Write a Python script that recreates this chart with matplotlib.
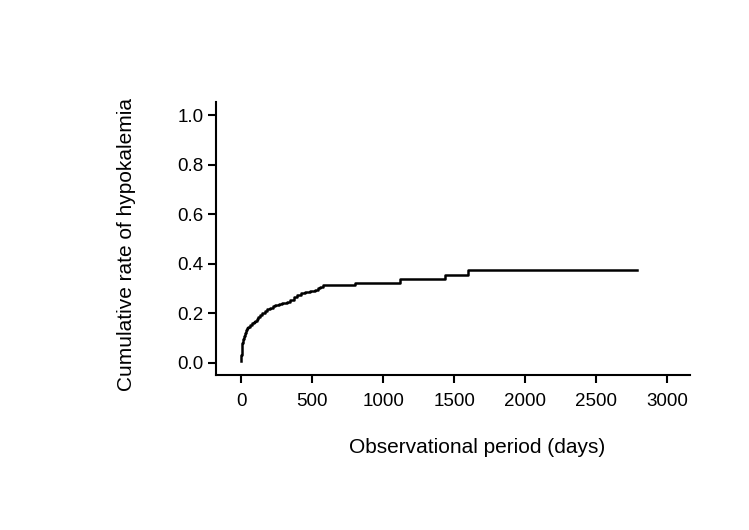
import numpy as np
import matplotlib
matplotlib.use("Agg")
from matplotlib import pyplot as plt

plt.rcParams['font.family'] = ['Liberation Sans', 'DejaVu Sans']

# cumulative incidence step curve (days, rate)
days = [0, 3, 6, 9, 14, 20, 27, 33, 42, 52, 63, 75, 88, 100, 112, 122, 135,
        150, 169, 185, 205, 225, 239, 265, 290, 322, 345, 370, 392, 420, 450,
        485, 521, 545, 556, 580, 802, 1119, 1435, 1600, 2785]
rate = [0.005, 0.03, 0.055, 0.078, 0.095, 0.108, 0.12, 0.132, 0.138, 0.145,
        0.152, 0.159, 0.164, 0.170, 0.178, 0.186, 0.192, 0.200, 0.210, 0.216,
        0.222, 0.228, 0.233, 0.238, 0.242, 0.246, 0.255, 0.265, 0.273, 0.280,
        0.287, 0.290, 0.293, 0.300, 0.306, 0.312, 0.322, 0.337, 0.353, 0.373,
        0.373]

x_ticks = [0, 500, 1000, 1500, 2000, 2500, 3000]
y_ticks = [0.0, 0.2, 0.4, 0.6, 0.8, 1.0]

def main():
    fig = plt.figure(figsize=(7.49, 5.30), dpi=100)
    ax = fig.add_axes([0.2884, 0.2925, 0.6328, 0.5157])

    ax.step(days, rate, where='post', color='black', linewidth=1.8)

    ax.set_xlim(-176, 3160)
    ax.set_ylim(-0.05, 1.055)
    ax.set_xticks(x_ticks)
    ax.set_yticks(y_ticks)
    ax.set_yticklabels(['%.1f' % v for v in y_ticks])

    for s in ['top', 'right']:
        ax.spines[s].set_visible(False)
    for s in ['left', 'bottom']:
        ax.spines[s].set_linewidth(1.5)
    ax.tick_params(direction='out', length=5.8, width=1.5, labelsize=13.5)
    ax.tick_params(axis='x', pad=7)
    ax.tick_params(axis='y', pad=3)

    ax.set_xlabel('Observational period (days)', fontsize=15)
    ax.xaxis.set_label_coords(0.5517, -0.23)
    ax.set_ylabel('Cumulative rate of hypokalemia', fontsize=15)
    ax.yaxis.set_label_coords(-0.169, 0.476)

    fig.savefig('out.png', dpi=100)

if __name__ == '__main__':
    main()
